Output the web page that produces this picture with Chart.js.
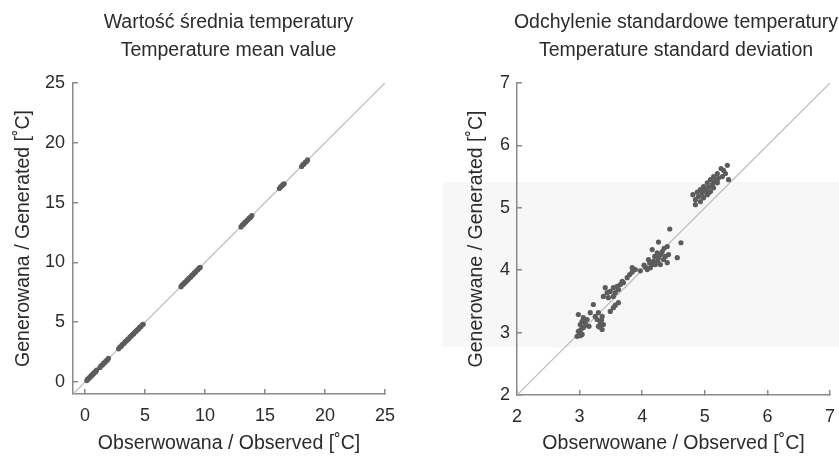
<!DOCTYPE html>
<html>
<head>
<meta charset="utf-8">
<script src="https://cdn.jsdelivr.net/npm/chart.js@4.4.1/dist/chart.umd.min.js"></script>
<style>
  html, body { margin: 0; padding: 0; background: #fff; overflow: hidden; }
  body { width: 839px; height: 457px; position: relative; }
  .panel { position: absolute; top: 0; height: 457px; }
  #meanPanel { left: 0; width: 457px; }
  #sdPanel { left: 440px; width: 472px; }
  #shade { position: absolute; left: 443px; top: 182px; width: 396px; height: 165px; background: #f7f7f7; }
</style>
</head>
<body>
<div id="shade"></div>
<div class="panel" id="meanPanel"><canvas id="meanChart" width="457" height="457"></canvas></div>
<div class="panel" id="sdPanel"><canvas id="sdChart" width="472" height="457"></canvas></div>
<script>
// mean temperature: observed vs generated
const meanObserved = [
  0.15, 0.22, 0.30, 0.38, 0.45, 0.52, 0.60, 0.68, 0.75, 0.82, 0.90, 0.97,
  1.25, 1.35, 1.45, 1.55, 1.65, 1.75, 1.85, 1.95,
  2.80, 2.90, 3.00, 3.10, 3.25, 3.35, 3.45, 3.55, 3.65, 3.75, 3.85, 3.95, 4.05, 4.15, 4.25, 4.35, 4.45, 4.55, 4.65, 4.75, 4.85,
  8.00, 8.10, 8.20, 8.30, 8.40, 8.50, 8.60, 8.70, 8.80, 8.90, 9.00, 9.10, 9.20, 9.30, 9.40, 9.50, 9.60,
  13.00, 13.10, 13.20, 13.30, 13.40, 13.50, 13.60, 13.70, 13.80, 13.90,
  16.20, 16.30, 16.40, 16.50, 16.60,
  18.05, 18.15, 18.25, 18.35, 18.45, 18.55
];
const meanGenerated = [
  0.12, 0.25, 0.27, 0.40, 0.42, 0.55, 0.57, 0.70, 0.73, 0.85, 0.87, 1.00,
  1.22, 1.38, 1.42, 1.58, 1.62, 1.78, 1.83, 1.97,
  2.78, 2.93, 2.97, 3.12, 3.22, 3.38, 3.43, 3.57, 3.62, 3.78, 3.83, 3.97, 4.02, 4.18, 4.23, 4.37, 4.42, 4.58, 4.63, 4.77, 4.83,
  7.97, 8.12, 8.18, 8.32, 8.37, 8.52, 8.58, 8.72, 8.77, 8.92, 8.98, 9.12, 9.17, 9.32, 9.38, 9.52, 9.58,
  12.97, 13.12, 13.18, 13.32, 13.37, 13.52, 13.58, 13.72, 13.77, 13.92,
  16.18, 16.32, 16.38, 16.52, 16.57,
  18.02, 18.17, 18.23, 18.37, 18.42, 18.57
];
const meanTicks = [0, 5, 10, 15, 20, 25];

// temperature standard deviation: observed vs generated
const sdObserved = [
  2.98, 3.06, 3.04, 3.12, 3.09, 3.01, 3.15, 3.06, 2.98, 3.04, 2.96, 3.01, 3.00, 3.17, 3.30, 3.36, 3.28, 3.33, 3.38, 3.30, 3.36, 3.25, 3.32, 3.35, 3.10, 3.02,
  3.76, 3.68, 3.65, 3.60, 3.54, 3.49, 3.44, 3.38, 3.46, 3.54, 3.62, 3.70, 3.57, 3.41, 3.22, 3.62, 3.54, 3.49, 3.57, 3.84, 3.80,
  4.44, 4.26, 4.62, 4.40, 4.16, 4.56, 4.10, 4.18, 4.26, 4.34, 4.29, 4.21, 4.13, 4.08, 4.37, 4.42, 4.24, 4.32, 4.40, 4.16, 3.97, 3.89, 3.84, 4.05, 4.20, 4.30, 4.12, 4.35, 4.25, 4.03,
  5.20, 5.14, 5.22, 5.09, 5.15, 5.04, 5.12, 5.20, 4.98, 5.06, 5.14, 4.93, 5.01, 5.09, 4.88, 4.96, 5.04, 4.81, 4.90, 4.98, 4.85, 4.93, 4.85, 5.20, 5.06, 5.30, 5.36, 5.28, 5.33, 5.38, 5.26
];
const sdGenerated = [
  3.29, 3.24, 3.18, 3.21, 3.16, 3.13, 3.10, 3.08, 3.02, 2.97, 2.94, 2.95, 3.00, 3.32, 3.32, 3.26, 3.21, 3.16, 3.13, 3.10, 3.05, 3.26, 3.09, 3.20, 3.12, 3.05,
  3.88, 3.82, 3.77, 3.74, 3.72, 3.66, 3.64, 3.58, 3.56, 3.58, 3.69, 3.80, 3.64, 3.72, 3.45, 3.48, 3.40, 3.34, 3.44, 3.97, 3.93,
  4.66, 4.45, 4.44, 4.38, 4.33, 4.20, 4.17, 4.14, 4.20, 4.17, 4.09, 4.09, 4.04, 4.01, 4.22, 4.25, 4.28, 4.30, 4.12, 4.09, 3.99, 4.01, 4.04, 4.05, 4.22, 4.25, 4.12, 4.35, 4.15, 4.08,
  5.55, 5.50, 5.48, 5.45, 5.42, 5.40, 5.37, 5.40, 5.34, 5.33, 5.32, 5.29, 5.28, 5.26, 5.25, 5.23, 5.21, 5.21, 5.18, 5.16, 5.13, 5.10, 5.05, 5.45, 5.24, 5.60, 5.68, 5.50, 5.55, 5.45, 5.63
];
const sdTicks = [2, 3, 4, 5, 6, 7];

const textColor = '#2b2b2b';
const axisColor = '#8a8a8a';
const dotColor = '#5c5c5c';
const diagColor = '#b8b8b8';

Chart.defaults.font.family = "'Liberation Sans Narrow', 'Liberation Sans', Arial, sans-serif";
Chart.defaults.color = textColor;

const axis = (range, ticks, label, isX, o) => ({
  type: 'linear',
  min: range[0],
  max: range[1],
  afterBuildTicks: s => { s.ticks = ticks.map(v => ({ value: v })); },
  afterFit: s => { if (isX) s.height = o.size; else s.width = o.size; },
  border: { color: axisColor, width: 1.5 },
  grid: { drawOnChartArea: false, tickLength: -5, color: axisColor, lineWidth: 1.5 },
  ticks: { padding: o.tickPad, autoSkip: false, maxRotation: 0, color: textColor, font: { size: 18 } },
  title: { display: true, text: label, color: textColor, font: { size: 19.5 }, padding: o.titlePad }
});

// empty right-hand box: keeps the plot off the right edge while the title stays centred on the canvas
const spacer = (w) => ({
  type: 'linear',
  position: 'right',
  grid: { display: false },
  border: { display: false },
  ticks: { display: false },
  afterFit: s => { s.width = w; }
});

const makeChart = (id, cfg) => {
  const points = cfg.obs.map((x, i) => ({ x: x, y: cfg.gen[i] }));
  new Chart(document.getElementById(id), {
    type: 'scatter',
    data: {
      datasets: [
        { data: points, backgroundColor: dotColor, pointRadius: 2.6, borderWidth: 0, order: 0 },
        {
          type: 'line',
          data: [{ x: cfg.range[0], y: cfg.range[0] }, { x: cfg.range[1], y: cfg.range[1] }],
          borderColor: diagColor, borderWidth: 1.2, pointRadius: 0, order: 1
        }
      ]
    },
    options: {
      responsive: false,
      animation: false,
      layout: { padding: 0 },
      plugins: {
        legend: { display: false },
        tooltip: { enabled: false },
        title: {
          display: true,
          text: cfg.title,
          color: textColor,
          font: { size: 19.5, weight: 'normal', lineHeight: 1.436 },
          padding: { top: 9, bottom: 18 }
        }
      },
      scales: {
        x: axis(cfg.range, cfg.ticks, cfg.xLabel, true, { size: cfg.xSize, tickPad: 16, titlePad: { top: 0, bottom: 2 } }),
        y: axis(cfg.range, cfg.ticks, cfg.yLabel, false, { size: cfg.ySize, tickPad: cfg.yTickPad, titlePad: { top: cfg.yTitlePad, bottom: 0 } }),
        gap: spacer(cfg.padRight)
      }
    }
  });
};

makeChart('meanChart', {
  obs: meanObserved, gen: meanGenerated, range: [-1, 25], ticks: meanTicks,
  title: ['Wartość średnia temperatury', 'Temperature mean value'],
  xLabel: 'Obserwowana / Observed [˚C]', yLabel: 'Generowana / Generated [˚C]',
  padRight: 72, xSize: 63, ySize: 73, yTickPad: 13, yTitlePad: 12
});

makeChart('sdChart', {
  obs: sdObserved, gen: sdGenerated, range: [2, 7], ticks: sdTicks,
  title: ['Odchylenie standardowe temperatury', 'Temperature standard deviation'],
  xLabel: 'Obserwowane / Observed [˚C]', yLabel: 'Generowane / Generated [˚C]',
  padRight: 82, xSize: 62, ySize: 77, yTickPad: 12, yTitlePad: 25
});
</script>
</body>
</html>
